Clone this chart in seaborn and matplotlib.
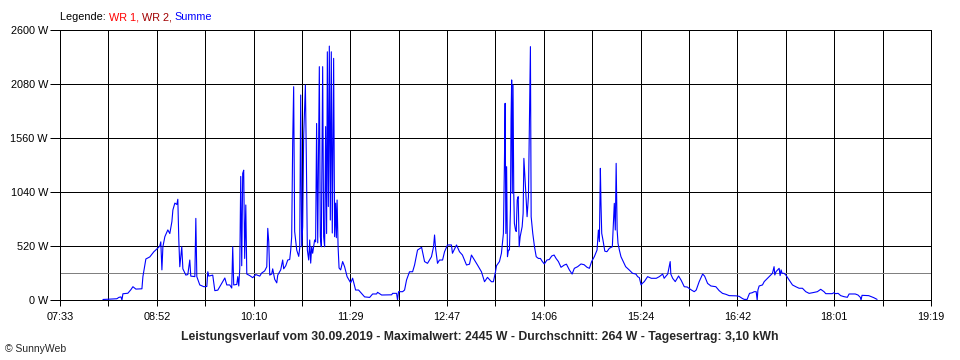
import numpy as np
import pandas as pd
import matplotlib
matplotlib.use("Agg")
import matplotlib.pyplot as plt
import seaborn as sns

# Leistungsverlauf 30.09.2019, Summe beider WR (Minuten seit Mitternacht, Watt)
minute_of_day = [
    487.8, 493.5, 499.1, 500.7, 502.4, 503.2, 504.0, 508.0, 510.5, 512.1,
    514.5, 519.4, 520.2, 522.6, 525.8, 529.1, 532.3, 533.9, 534.7, 535.6,
    536.4, 538.0, 540.4, 542.0, 543.7, 544.5, 546.1, 547.7, 548.5, 549.3,
    550.1, 551.7, 552.6, 555.0, 556.6, 558.2, 559.0, 562.3, 563.1, 563.9,
    566.3, 569.6, 572.0, 572.8, 573.6, 576.8, 578.5, 580.9, 583.3, 586.6,
    588.2, 590.6, 592.2, 593.0, 593.8, 596.3, 597.1, 597.9, 598.7, 599.5,
    600.3, 601.1, 601.9, 602.7, 603.6, 604.4, 606.8, 609.2, 611.7, 614.9,
    616.5, 618.9, 620.6, 621.4, 622.2, 623.0, 624.6, 625.4, 627.0, 628.7,
    629.5, 631.9, 633.5, 634.3, 636.0, 637.6, 639.2, 640.0, 640.8, 641.6,
    642.4, 643.2, 644.9, 646.5, 647.3, 648.1, 648.9, 649.7, 650.5, 651.9,
    652.7, 653.5, 654.6, 655.4, 656.2, 657.0, 657.8, 659.4, 660.2, 661.0,
    661.9, 663.2, 664.0, 664.8, 665.9, 666.7, 667.5, 668.3, 669.1, 669.7,
    670.5, 671.3, 672.1, 672.9, 673.7, 674.8, 675.6, 676.4, 677.0, 677.6,
    678.4, 679.2, 680.5, 682.1, 683.7, 685.7, 688.6, 690.2, 692.6, 695.0,
    699.9, 704.0, 706.4, 709.6, 710.4, 713.7, 721.8, 722.6, 725.8, 726.6,
    727.4, 730.7, 732.3, 733.9, 736.3, 738.8, 740.4, 742.8, 746.1, 748.5,
    750.9, 754.1, 755.8, 756.6, 757.4, 759.0, 760.6, 763.1, 764.7, 767.1,
    770.3, 771.1, 774.4, 776.8, 779.2, 782.5, 784.9, 786.5, 789.0, 791.4,
    794.6, 797.1, 799.5, 802.7, 804.3, 806.0, 806.8, 809.2, 810.8, 812.4,
    813.2, 813.8, 814.4, 815.0, 815.7, 816.5, 817.3, 818.1, 818.6, 819.1,
    819.6, 820.2, 820.8, 821.3, 822.2, 822.8, 823.6, 824.4, 825.2, 826.0,
    827.6, 828.4, 829.0, 829.8, 830.6, 831.6, 832.7, 834.3, 834.9, 836.2,
    837.6, 839.0, 840.8, 842.4, 844.0, 845.6, 847.7, 849.6, 851.6, 853.5,
    855.1, 857.0, 859.1, 861.8, 863.5, 865.9, 868.1, 869.9, 872.6, 875.3,
    877.8, 880.2, 882.1, 883.9, 886.1, 888.3, 889.4, 890.2, 891.0, 891.5,
    892.1, 893.1, 894.6, 896.3, 898.3, 900.7, 902.3, 903.1, 903.8, 904.6,
    905.3, 906.4, 907.7, 909.6, 911.5, 914.4, 917.1, 919.8, 921.2, 922.6,
    924.0, 925.0, 926.6, 929.3, 932.3, 936.3, 938.8, 941.5, 942.7, 945.6,
    947.6, 948.1, 949.6, 951.7, 954.4, 956.5, 959.0, 961.4, 964.8, 967.1,
    968.7, 971.1, 973.9, 975.5, 977.9, 980.6, 984.6, 987.3, 990.0, 992.7,
    995.4, 1001.1, 1003.5, 1005.9, 1007.6, 1010.0, 1010.8, 1011.9, 1014.1, 1015.7,
    1017.3, 1018.1, 1018.7, 1019.7, 1022.4, 1023.8, 1026.5, 1029.2, 1030.5, 1031.8,
    1032.4, 1033.4, 1035.9, 1036.7, 1037.5, 1038.3, 1039.9, 1041.3, 1044.0, 1046.7,
    1049.4, 1052.1, 1054.8, 1057.5, 1060.2, 1062.9, 1066.9, 1069.6, 1072.3, 1073.7,
    1078.9, 1080.3, 1081.6, 1083.7, 1085.8, 1088.5, 1091.2, 1092.6, 1097.6, 1099.8,
    1101.7, 1102.3, 1103.1, 1108.5, 1112.5, 1115.3,
]
watts = [
    5, 8, 12, 25, 30, 0, 60, 65, 100, 128,
    105, 108, 225, 395, 415, 465, 500, 520, 560, 290,
    513, 610, 675, 640, 755, 867, 933, 920, 970, 578,
    320, 513, 300, 240, 245, 385, 230, 225, 786, 225,
    145, 128, 130, 272, 230, 240, 90, 95, 145, 212,
    145, 145, 115, 513, 145, 150, 225, 135, 300, 1190,
    330, 1220, 1250, 400, 915, 250, 235, 215, 245, 230,
    260, 280, 320, 690, 560, 240, 250, 300, 200, 165,
    240, 290, 385, 300, 330, 385, 390, 480, 610, 1510,
    2054, 660, 480, 420, 500, 1974, 513, 705, 1572, 2070,
    1348, 480, 385, 578, 355, 513, 450, 578, 560, 1700,
    550, 2247, 610, 513, 2247, 610, 513, 1670, 640, 2390,
    900, 2445, 770, 2390, 645, 2327, 610, 933, 600, 963,
    513, 308, 290, 370, 320, 225, 165, 210, 96, 96,
    30, 25, 58, 58, 74, 48, 50, 64, 64, 0,
    80, 80, 96, 193, 272, 272, 337, 481, 507, 370,
    353, 417, 513, 626, 500, 353, 385, 385, 465, 530,
    530, 450, 530, 465, 433, 337, 345, 433, 385, 337,
    272, 176, 218, 176, 176, 272, 330, 370, 450, 640,
    1284, 1894, 640, 1284, 417, 481, 481, 867, 1750, 2119,
    1027, 2070, 1027, 738, 674, 660, 963, 995, 513, 610,
    706, 835, 1364, 1204, 1027, 802, 995, 2440, 802, 642,
    513, 417, 400, 400, 370, 347, 385, 390, 424, 433,
    400, 370, 315, 337, 345, 289, 250, 305, 321, 347,
    340, 315, 305, 370, 417, 481, 674, 562, 1268, 931,
    642, 578, 470, 465, 498, 513, 931, 674, 1316, 674,
    546, 481, 417, 370, 321, 289, 257, 250, 225, 215,
    145, 160, 177, 225, 209, 209, 225, 250, 209, 250,
    370, 250, 209, 177, 231, 190, 128, 125, 96, 80,
    96, 177, 250, 230, 160, 135, 128, 90, 64, 55,
    42, 40, 35, 16, 6, 6, 32, 64, 70, 80,
    80, 0, 96, 135, 145, 177, 209, 241, 257, 321,
    241, 273, 305, 235, 290, 257, 257, 241, 193, 145,
    128, 113, 113, 80, 64, 70, 80, 103, 80, 61,
    61, 70, 61, 64, 42, 32, 26, 58, 58, 48,
    26, 0, 45, 42, 23, 6,
]

average_w = 264
y_ticks = [0, 520, 1040, 1560, 2080, 2600]
x_labels = ["07:33", "08:52", "10:10", "11:29", "12:47",
            "14:06", "15:24", "16:42", "18:01", "19:19"]
start_min, end_min = 453, 1159

title = ("Leistungsverlauf vom 30.09.2019 - Maximalwert: 2445 W - "
         "Durchschnitt: 264 W - Tagesertrag: 3,10 kWh")
legend_parts = [("Legende: ", "black"), ("WR 1, ", "#ff0000"),
                ("WR 2, ", "#a00000"), ("Summe", "#0000ff")]

df = pd.DataFrame({"minute": minute_of_day, "watt": watts})

sns.set_style("white")
plt.rcParams["font.family"] = ["Liberation Sans", "DejaVu Sans"]

PX = 0.72  # one pixel at 100 dpi

fig = plt.figure(figsize=(9.6, 3.6), dpi=100)
ax = fig.add_axes([60 / 960, 60 / 360, 871 / 960, 270 / 360])

sns.lineplot(data=df, x="minute", y="watt", ax=ax, color="#0000ff",
             linewidth=0.8, zorder=3)
ax.axhline(average_w, color="#808080", linewidth=PX, antialiased=False, zorder=2)

ax.set_xlim(start_min, end_min)
ax.set_ylim(0, 2600)

grid_x = np.linspace(start_min, end_min, 19)
ax.set_xticks(grid_x)
ax.set_xticklabels([x_labels[i // 2] if i % 2 == 0 else "" for i in range(19)])
ax.set_yticks(y_ticks)
ax.set_yticklabels([f"{v} W" for v in y_ticks])

for gx in grid_x[1:-1]:
    ax.axvline(gx, color="black", linewidth=PX, antialiased=False, zorder=1)
for gy in y_ticks[1:-1]:
    ax.axhline(gy, color="black", linewidth=PX, antialiased=False, zorder=1)

ax.tick_params(axis="x", direction="out", length=4, width=PX, pad=5,
               labelsize=7.8, colors="black", bottom=True)
ax.tick_params(axis="y", direction="out", length=7.2, width=PX, pad=1.5,
               labelsize=7.8, colors="black", left=True)
for s in ax.spines.values():
    s.set_color("black")
    s.set_linewidth(PX)
    s.set_antialiased(False)
ax.set_xlabel("")
ax.set_ylabel("")

fig.text(0.5, 23 / 360, title, ha="center", va="center",
         fontsize=8.8, fontweight="bold")
fig.text(5 / 960, 11 / 360, "\u00a9 SunnyWeb", ha="left", va="center", fontsize=7.5)

fig.canvas.draw()
renderer = fig.canvas.get_renderer()
xpos = 60 / 960
for txt, col in legend_parts:
    t = fig.text(xpos, 343 / 360, txt, color=col, ha="left", va="center", fontsize=7.8)
    bb = t.get_window_extent(renderer)
    xpos = bb.x1 / 960

fig.savefig("out.png", dpi=100)
